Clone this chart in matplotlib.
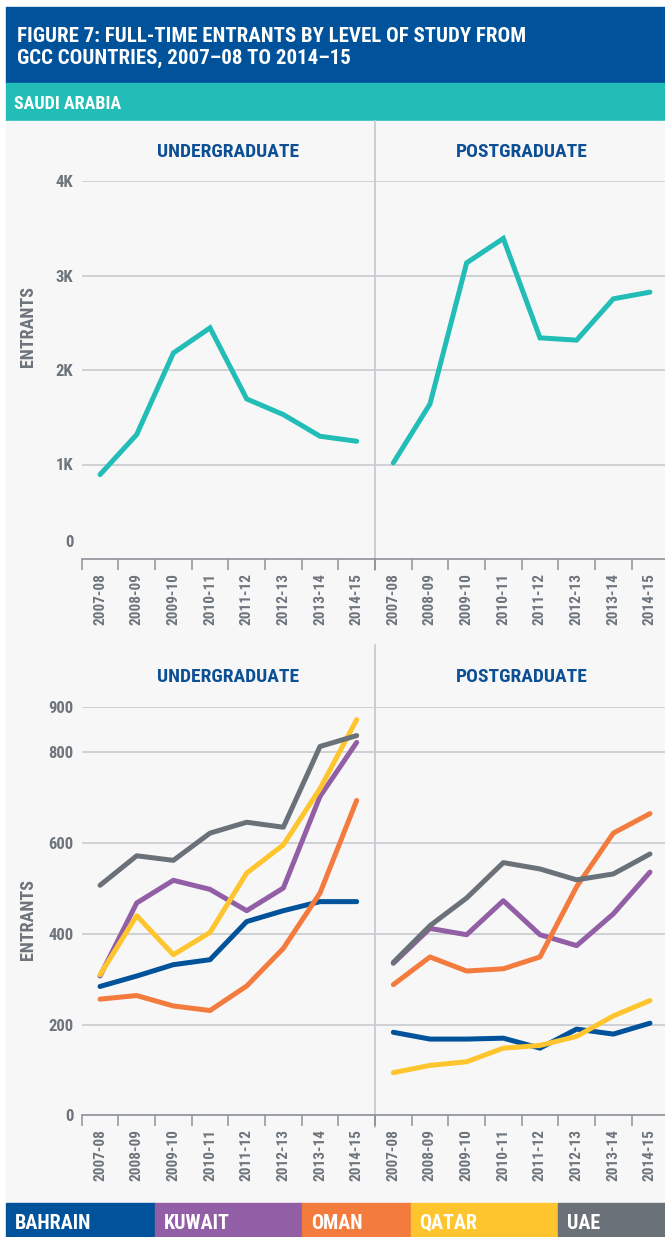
import matplotlib
matplotlib.use('Agg')
import matplotlib.pyplot as plt
from matplotlib import font_manager
from matplotlib.patches import Rectangle
from matplotlib.lines import Line2D
import numpy as np

# pick a narrow bold face if one is installed
available = set(f.name for f in font_manager.fontManager.ttflist)
family = 'DejaVu Sans'
for name in ['Roboto Condensed', 'Liberation Sans Narrow', 'Open Sans Condensed', 'Liberation Sans']:
    if name in available:
        family = name
        break
plt.rcParams['font.family'] = [family, 'DejaVu Sans']

years = ['2007-08', '2008-09', '2009-10', '2010-11', '2011-12', '2012-13', '2013-14', '2014-15']

saudi_ug = [893, 1317, 2180, 2446, 1694, 1528, 1299, 1246]
saudi_pg = [1017, 1641, 3134, 3392, 2340, 2316, 2753, 2824]

countries = ['BAHRAIN', 'KUWAIT', 'OMAN', 'QATAR', 'UAE']
colors = ['#00529b', '#925ea6', '#f47b3e', '#fec52e', '#6b7179']

bahrain_ug = [284, 307, 332, 343, 427, 451, 471, 471]
kuwait_ug = [307, 468, 518, 498, 451, 501, 703, 822]
oman_ug = [256, 264, 241, 231, 285, 368, 490, 694]
qatar_ug = [310, 440, 354, 403, 534, 596, 720, 872]
uae_ug = [507, 572, 562, 622, 646, 635, 813, 837]

bahrain_pg = [183, 168, 168, 170, 148, 190, 179, 203]
kuwait_pg = [335, 412, 398, 473, 398, 374, 444, 536]
oman_pg = [288, 349, 318, 323, 349, 504, 622, 665]
qatar_pg = [94, 110, 118, 148, 154, 174, 219, 253]
uae_pg = [337, 418, 479, 557, 543, 519, 532, 576]

ug_series = [bahrain_ug, kuwait_ug, oman_ug, qatar_ug, uae_ug]
pg_series = [bahrain_pg, kuwait_pg, oman_pg, qatar_pg, uae_pg]

saudi_ticks = [1000, 2000, 3000, 4000]
saudi_ticklabels = ['1K', '2K', '3K', '4K']
gcc_ticks = [0, 200, 400, 600, 800, 900]
gcc_ticklabels = ['0', '200', '400', '600', '800', '900']

W, H = 665, 1237
BLUE = '#00529b'
TEAL = '#22bdb6'
GREY_TXT = '#6d747c'
GRID = '#c7cacf'
AXIS = '#8e9399'


def fx(x):
    return x / W


def fy(y):
    return 1 - y / H


fig = plt.figure(figsize=(W / 100, H / 100), dpi=100)
fig.patch.set_facecolor('white')

# header and background bands
fig.patches.append(Rectangle((fx(6), fy(83)), 1, (83 - 7) / H, transform=fig.transFigure,
                             color=BLUE, zorder=-2))
fig.patches.append(Rectangle((fx(6), fy(121)), 1, (121 - 83) / H, transform=fig.transFigure,
                             color=TEAL, zorder=-2))
fig.patches.append(Rectangle((fx(6), fy(1203)), 1, (1203 - 121) / H, transform=fig.transFigure,
                             color='#f7f7f7', zorder=-2))

fig.text(fx(17), fy(42), 'FIGURE 7: FULL-TIME ENTRANTS BY LEVEL OF STUDY FROM',
         color='white', fontsize=15, fontweight='bold', va='baseline')
fig.text(fx(17), fy(64), 'GCC COUNTRIES, 2007\u201308 TO 2014\u201315',
         color='white', fontsize=15, fontweight='bold', va='baseline')
fig.text(fx(14), fy(109), 'SAUDI ARABIA', color='white', fontsize=13,
         fontweight='bold', va='baseline')

x = np.arange(len(years))


def style_axes(ax, ticks, ticklabels, ymax, show_labels):
    ax.set_facecolor('none')
    ax.set_xlim(-0.5, len(years) - 0.5)
    ax.set_ylim(0, ymax)
    for s in ['top', 'right', 'left']:
        ax.spines[s].set_visible(False)
    ax.spines['bottom'].set_color(AXIS)
    ax.spines['bottom'].set_linewidth(1.2)
    ax.spines['bottom'].set_zorder(5)
    ax.set_xticks(np.arange(-0.5, len(years), 1))
    ax.set_xticklabels([])
    ax.tick_params(axis='x', which='major', length=8, width=1.1, color=AXIS)
    ax.set_xticks(x, minor=True)
    ax.set_xticklabels(years, minor=True, rotation=90, fontsize=11,
                       fontweight='bold', color=GREY_TXT)
    ax.tick_params(axis='x', which='minor', length=0, pad=10)
    ax.set_yticks(ticks)
    if show_labels:
        ax.set_yticklabels(ticklabels, fontsize=12, fontweight='bold', color=GREY_TXT)
    else:
        ax.set_yticklabels([])
    ax.tick_params(axis='y', length=0, pad=6)
    ax.grid(axis='y', color=GRID, linewidth=1.2)
    ax.set_axisbelow(True)


# Saudi Arabia panels
top_h = (559 - 181) / H
ax1 = fig.add_axes([fx(81.7), fy(559), 293.3 / W, top_h])
ax2 = fig.add_axes([fx(375), fy(559), 293.3 / W, top_h])
style_axes(ax1, saudi_ticks, saudi_ticklabels, 4000, True)
style_axes(ax2, saudi_ticks, saudi_ticklabels, 4000, False)
ax1.annotate('0', xy=(0, 0), xycoords=('axes fraction', 'data'), xytext=(-6, 12),
             textcoords='offset points', ha='right', va='center', fontsize=12,
             fontweight='bold', color=GREY_TXT)
ax1.plot(x, saudi_ug, color=TEAL, lw=3.6, solid_capstyle='round', solid_joinstyle='miter')
ax2.plot(x, saudi_pg, color=TEAL, lw=3.6, solid_capstyle='round', solid_joinstyle='miter')

# other GCC panels
bot_h = (1115.3 - 707) / H
ax3 = fig.add_axes([fx(81.7), fy(1115.3), 293.3 / W, bot_h])
ax4 = fig.add_axes([fx(375), fy(1115.3), 293.3 / W, bot_h])
style_axes(ax3, gcc_ticks, gcc_ticklabels, 900, True)
style_axes(ax4, gcc_ticks, gcc_ticklabels, 900, False)
for vals, c in zip(ug_series, colors):
    ax3.plot(x, vals, color=c, lw=3.6, solid_capstyle='round')
for vals, c in zip(pg_series, colors):
    ax4.plot(x, vals, color=c, lw=3.6, solid_capstyle='round')

for ax in [ax1, ax2, ax3, ax4]:
    for ln in ax.lines:
        ln.set_clip_on(False)

# panel titles and y labels
for ty in [152, 677]:
    fig.text(fx(228.5), fy(ty), 'UNDERGRADUATE', ha='center', va='center', fontsize=14,
             fontweight='bold', color='#0d4f95')
    fig.text(fx(521.5), fy(ty), 'POSTGRADUATE', ha='center', va='center', fontsize=14,
             fontweight='bold', color='#0d4f95')
fig.text(fx(28), fy(327), 'ENTRANTS', rotation=90, ha='center', va='center', fontsize=13,
         fontweight='bold', color=GREY_TXT)
fig.text(fx(28), fy(920), 'ENTRANTS', rotation=90, ha='center', va='center', fontsize=13,
         fontweight='bold', color=GREY_TXT)

# divider between undergraduate and postgraduate
fig.add_artist(Line2D([fx(375), fx(375)], [fy(121), fy(570)], color=GRID, lw=1.3, zorder=-1))
fig.add_artist(Line2D([fx(375), fx(375)], [fy(645), fy(1127)], color=GRID, lw=1.3, zorder=-1))

# legend strip
edges = [6, 155, 302, 410.5, 558, 665]
for i, (name, c) in enumerate(zip(countries, colors)):
    fig.patches.append(Rectangle((fx(edges[i]), fy(1237)), (edges[i + 1] - edges[i]) / W,
                                 (1237 - 1203) / H, transform=fig.transFigure, color=c, zorder=-2))
    fig.text(fx(edges[i] + 9), fy(1229), name, color='white', fontsize=14.5,
             fontweight='bold', va='baseline')

fig.savefig('out.png', dpi=100, facecolor='white')
